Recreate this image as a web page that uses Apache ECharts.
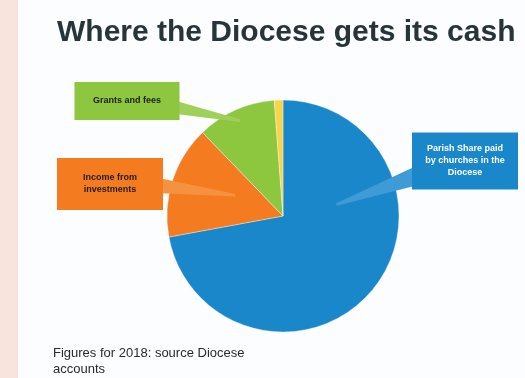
<!DOCTYPE html>
<html><head><meta charset="utf-8">
<script src="https://cdn.jsdelivr.net/npm/echarts@6/dist/echarts.min.js"></script>
<style>html,body{margin:0;padding:0;background:#fcfdfe}#c{width:525px;height:378px}</style>
</head><body><div id="c"></div>
<script>
// ---- data ----
const categories = ['Parish Share paid by churches in the Diocese', 'Income from investments', 'Grants and fees', 'Other'];
const values = [72.1, 15.7, 11.0, 1.2];
const labelTexts = [['Parish Share paid', 'by churches in the', 'Diocese'], ['Income from', 'investments'], ['Grants and fees'], []];
const titleText = 'Where the Diocese gets its cash';
const noteLines = ['Figures for 2018: source Diocese', 'accounts'];

// ---- styling / layout ----
const colors = ['#1b87cb', '#f47b20', '#8dc63f', '#f7d44a'];
const pointerColors = ['#3f9bd6', '#f6913f', '#9fd05a', '#f7d44a'];
const labelColors = ['#ffffff', '#1e1e1e', '#1e1e1e', '#000'];
const center = [283, 216], radius = 116;
// label boxes: centre x/y, width, height, side the pointer leaves from, pointer base y, base half-width
const boxes = [
  {cx: 465, cy: 161, w: 106, h: 57, side: 'left', by: 177, hw: 8},
  {cx: 110, cy: 184, w: 106, h: 52, side: 'right', by: 186, hw: 6},
  {cx: 127, cy: 101, w: 105, h: 38, side: 'right', by: 108, hw: 5},
  null
];
// pointer tip: fraction along slice angle, fraction of radius
const tips = [{f: 0.30, k: 0.47}, {f: 0.6, k: 0.45}, {f: 0.5, k: 0.9}, null];

const total = values.reduce((a, b) => a + b, 0);
const cum = [];
values.reduce((acc, v, i) => { cum[i] = acc; return acc + v; }, 0);
function tipPoint(i) {
  const t = tips[i];
  const frac = (cum[i] + values[i] * t.f) / total;
  const th = frac * 2 * Math.PI;
  return [center[0] + radius * t.k * Math.sin(th), center[1] - radius * t.k * Math.cos(th)];
}

function makeData(withLabels) {
  return categories.map((name, i) => {
    const lines = labelTexts[i];
    const b = boxes[i];
    if (!withLabels || !b) return {name, value: values[i], label: {show: false}, labelLine: {show: false}};
    const lh = 12;
    const pv = (b.h - lines.length * lh) / 2;
    return {
      name, value: values[i],
      label: {
        show: true,
        formatter: lines.join('\n'),
        backgroundColor: colors[i],
        color: labelColors[i],
        fontFamily: 'Liberation Sans',
        fontSize: 9, fontWeight: 'bold', lineHeight: lh,
        width: b.w, padding: [pv, 0, pv, 0], align: 'center'
      },
      labelLine: {show: true, lineStyle: {color: pointerColors[i], width: 2.5}}
    };
  });
}

const chart = echarts.init(document.getElementById('c'), null, {renderer: 'canvas'});
chart.setOption({
  animation: false,
  backgroundColor: '#fcfdfe',
  color: colors,
  graphic: [{type: 'rect', shape: {x: 0, y: 0, width: 18, height: 378}, style: {fill: '#f8e4dc'}, z: -1}],
  title: [
    {text: titleText, left: 57, top: 18, padding: 0, textStyle: {fontFamily: 'Liberation Sans', fontSize: 30, fontWeight: 'bold', color: '#27353b'}},
    {text: noteLines.join('\n'), left: 53, top: 345, padding: 0, textStyle: {fontFamily: 'Liberation Sans', fontSize: 13, fontWeight: 'normal', color: '#2a2a2a', lineHeight: 16}}
  ],
  series: [{
    type: 'pie', z: 2,
    center: center, radius: radius,
    startAngle: 90, clockwise: true,
    itemStyle: {borderColor: 'rgba(255,255,255,0.6)', borderWidth: 0.6},
    emphasis: {disabled: true},
    data: makeData(false)
  }, {
    type: 'pie', z: 5,
    center: center, radius: radius,
    startAngle: 90, clockwise: true,
    itemStyle: {color: 'rgba(0,0,0,0)'},
    emphasis: {disabled: true},
    silent: true,
    data: makeData(true),
    labelLayout: function (p) {
      const i = p.dataIndex, b = boxes[i];
      if (!b) return {};
      const tp = tipPoint(i);
      const ex = b.side === 'left' ? b.cx - b.w / 2 + 1 : b.cx + b.w / 2 - 1;
      const pts = [];
      for (let d = -b.hw; d <= b.hw + 0.01; d += 2) { pts.push([ex, b.by + d]); pts.push(tp); }
      pts.pop();
      return {
        x: b.cx, y: b.cy, align: 'center', verticalAlign: 'middle',
        labelLinePoints: pts
      };
    }
  }]
});
</script></body></html>
